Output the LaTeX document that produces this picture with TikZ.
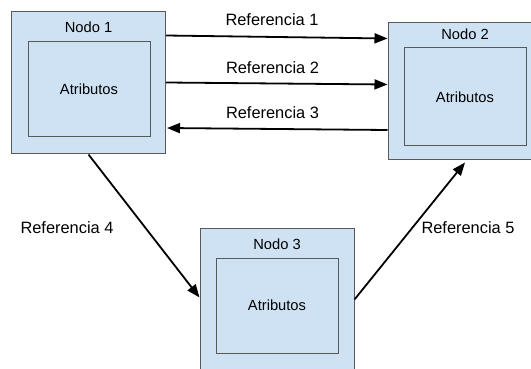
\documentclass[tikz,border=0pt]{standalone}
\usepackage{fontspec}
\setmainfont{Liberation Sans}
\usetikzlibrary{arrows.meta,calc}
\definecolor{boxfill}{HTML}{CFE2F3}
\definecolor{boxline}{HTML}{595959}
\tikzset{
  outerbox/.style={draw=boxline, fill=boxfill, line width=1pt, minimum width=154pt, minimum height=142pt, inner sep=0pt},
  innerbox/.style={draw=boxline, fill=boxfill, line width=1pt, minimum width=122pt, minimum height=95pt, inner sep=0pt, font=\fontsize{14.7}{17}\selectfont},
  title/.style={font=\fontsize{14.7}{17}\selectfont, inner sep=0pt},
  reflabel/.style={font=\fontsize{16.4}{19}\selectfont, inner sep=0pt},
  ref/.style={line width=1.8pt, -{Triangle[length=13pt,width=10pt]}}
}
\begin{document}
\begin{tikzpicture}[x=1pt,y=-1pt]
  \clip (0,0) rectangle (531,369);
  \fill[white] (0,0) rectangle (531,369);

  % Nodo 1
  \node[outerbox] (n1) at (88.5,83) {};
  \node[innerbox] (n1i) at (89,89.5) {Atributos};
  \node[title] (t1) at (88.5,27) {Nodo 1};

  % Nodo 2
  \node[outerbox, minimum height=137pt] (n2) at (465,91.5) {};
  \node[innerbox, minimum height=98pt] (n2i) at (465,97) {Atributos};
  \node[title] (t2) at (465,34) {Nodo 2};

  % Nodo 3
  \node[outerbox, minimum height=152pt] (n3) at (277,304) {};
  \node[innerbox] (n3i) at (277,305.5) {Atributos};
  \node[title] (t3) at (277,244) {Nodo 3};

  % Referencias
  \draw[ref] ($(n1.north east)+(0,24)$) -- ($(n2.north west)+(0,16)$);
  \draw[ref] ($(n1.north east)+(0,71)$) -- ($(n2.north west)+(0,62)$);
  \draw[ref] ($(n2.north west)+(0,107.5)$) -- ($(n1.north east)+(1,116.5)$);
  \draw[ref] (n1.south) -- ($(n3.north west)+(0,70)$);
  \draw[ref] ($(n3.north east)+(0,72)$) -- ($(n2.south)+(0,2)$);

  \node[reflabel] (r1) at (272,20) {Referencia 1};
  \node[reflabel] (r2) at (272.5,67.5) {Referencia 2};
  \node[reflabel] (r3) at (272.5,113) {Referencia 3};
  \node[reflabel] (r4) at (67,227.5) {Referencia 4};
  \node[reflabel] (r5) at (468,227.5) {Referencia 5};
\end{tikzpicture}
\end{document}
